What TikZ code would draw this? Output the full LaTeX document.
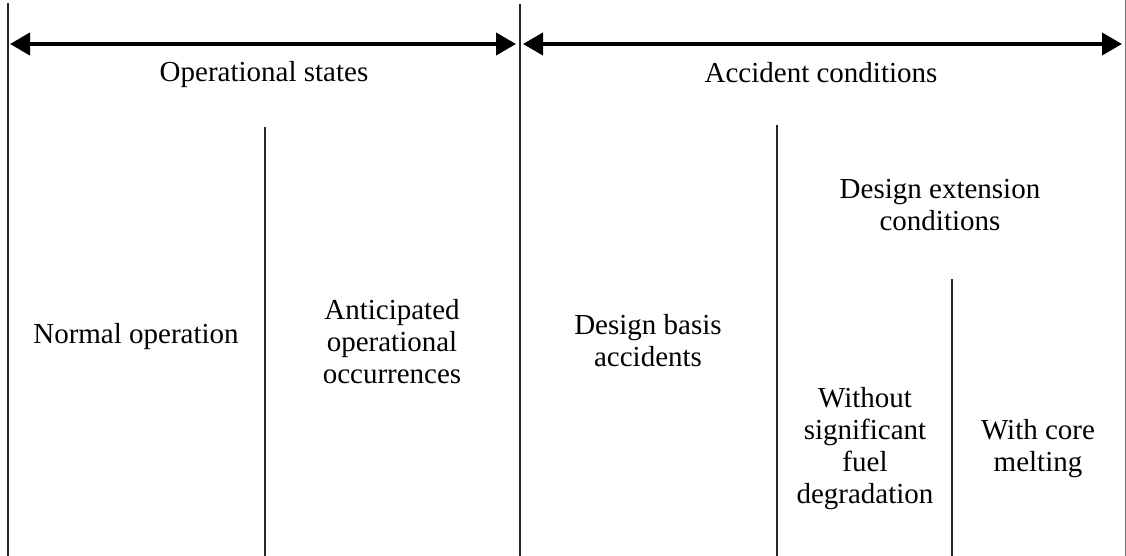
\documentclass[tikz,border=0pt]{standalone}
\usepackage{fontspec}
\setmainfont{Liberation Serif}
\usetikzlibrary{arrows.meta}
\begin{document}
\begin{tikzpicture}[x=1pt,y=-1pt,
  vline/.style={line width=1.3pt,black!85},
  spanarrow/.style={line width=4pt,{Triangle[length=20pt,width=22pt]}-{Triangle[length=20pt,width=22pt]}},
  lbl/.style={align=center,font=\fontsize{29}{32}\selectfont,inner sep=0pt}]
\useasboundingbox (0,0) rectangle (1126,556);
% vertical dividers
\coordinate (v1t) at (8,3);    \coordinate (v1b) at (8,556);
\coordinate (v2t) at (520,4);  \coordinate (v2b) at (520,556);
\coordinate (v3t) at (265,127); \coordinate (v3b) at (265,556);
\coordinate (v4t) at (777,125); \coordinate (v4b) at (777,556);
\coordinate (v5t) at (952,279); \coordinate (v5b) at (952,556);
\coordinate (v6t) at (1125,0); \coordinate (v6b) at (1125,556);
\draw[vline] (v1t) -- (v1b);
\draw[vline] (v2t) -- (v2b);
\draw[vline] (v3t) -- (v3b);
\draw[vline] (v4t) -- (v4b);
\draw[vline] (v5t) -- (v5b);
\draw[line width=1pt,black!55] (v6t) -- (v6b);
% span arrows
\coordinate (a1l) at (10,44); \coordinate (a1r) at (516,44);
\coordinate (a2l) at (523,44); \coordinate (a2r) at (1122,44);
\draw[spanarrow] (a1l) -- (a1r);
\draw[spanarrow] (a2l) -- (a2r);
% labels
\node[lbl] (ops) at (264,75) {Operational states};
\node[lbl] (acc) at (821,73) {Accident conditions};
\node[lbl] (norm) at (136,337) {Normal operation};
\node[lbl] (aoo) at (392,342) {Anticipated\\operational\\occurrences};
\node[lbl] (dba) at (648,341) {Design basis\\accidents};
\node[lbl] (dec) at (940,205) {Design extension\\conditions};
\node[lbl] (wo) at (865,449) {Without\\significant\\fuel\\degradation};
\node[lbl] (wc) at (1038,449) {With core\\melting};
\end{tikzpicture}
\end{document}
